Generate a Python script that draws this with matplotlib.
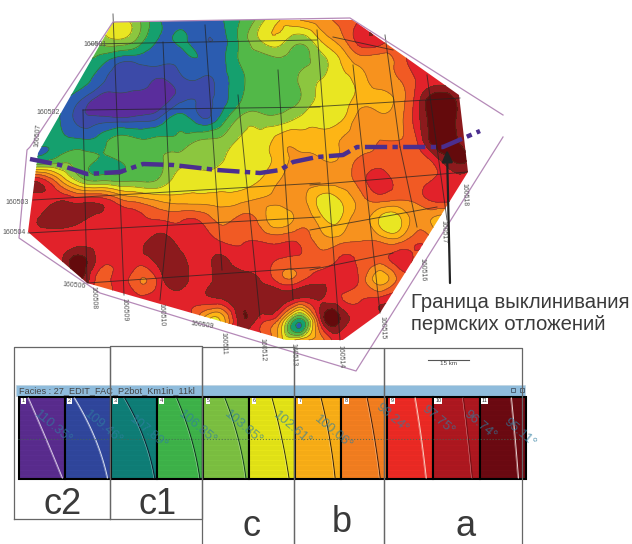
import numpy as np
import matplotlib
matplotlib.use("Agg")
import matplotlib.pyplot as plt
import matplotlib.tri as mtri
from matplotlib.colors import BoundaryNorm, ListedColormap
from matplotlib.patches import Polygon

plt.rcParams['font.family'] = ['Liberation Sans', 'DejaVu Sans']

# сетка карты фаций (значения снимались с картинки по цветам)
grid_x = np.arange(20, 500, 20)
grid_y = np.arange(20, 360, 20)
row_020 = [5,5,5,5,5,5.5,4.5,2.5,2,2,2.3,3.5,5,6.5,7.5,8,8.7,9.5,10,9.5,9.5,9.5,9.5,9.5]
row_040 = [5,5,5,5,5,5.4,4,2.4,2.6,2,2,3.7,5.5,6,4.8,6.5,8,10,10,9,9,9,9,9]
row_060 = [3.5,3.5,3.5,3.5,3,2,2,2,2.1,2.4,2.2,3.6,4,4.3,4.3,5,6.5,8,8,9,10,10,10,10]
row_080 = [3,3,3,2.9,2,1.5,1.5,1.2,1.6,1.7,2,3.2,4,4,4.6,5.5,6,7,8,8.5,9.7,10,10,10]
row_100 = [3,3,2.7,1.8,1,0.9,0.9,1,1.6,1.7,2,3.4,4,4,4.5,5.7,5.7,7,7,8,10.5,12.5,11,10]
row_120 = [3,3,2.5,1.5,1.5,1.5,1.6,2,3,2,2.8,4.8,5,5,5.8,6,6.3,8,8,8.3,10.5,12.5,11,10]
row_140 = [3,3,2.7,2.6,2.9,4,3.6,3.8,3.8,4.5,4.7,5.6,5.8,7,7,7,7.5,8,8.5,8.5,10,12.5,11.3,10]
row_160 = [3.2,3.2,4,4,3.4,3.6,4.2,4.4,5,5.2,5.4,5.7,6,7,7.8,7.6,7.6,8.7,9,9,9,10.5,11.8,10]
row_180 = [10,10,7.5,5,4.3,4.2,4.3,4.7,6,6,6,6,6.5,7.5,8,8,8,9,10,9,9,9.8,10,9.5]
row_200 = [10,10,10.4,10,10,8.7,8,7.3,7,7,7,7.2,7.6,7.8,8,6.2,6.5,8,8.8,8.5,9,9.8,9.5,9]
row_220 = [10,10.6,11,10.7,10,10,9.7,9.5,9.4,9.4,8.3,8.8,8.2,6.8,8,7,6.5,8,6.3,6.3,8,7,8,8]
row_240 = [10,10,10,10,10,10,10,11,10,10,9.4,9.3,9.4,9.2,9.3,8,8,8.4,8.2,8,9.3,8,8,8]
row_260 = [10,10,10.2,12,10,10,10,11,11,10,10.7,10,10,9.4,9.3,9,9.6,9.3,9,10,9,9,9,9]
row_280 = [10,10,10,11.5,9,10,8.5,10,11,10,11,11,10.5,9,9.2,10.2,10,9.3,7,9,9,9,9,9]
row_300 = [10,10,10,10,10,10,10,10,10,10,10.3,11.2,11,11.2,10,10.5,9.7,9.4,10,10,9,9,9,9]
row_320 = [10,10,10,10,10,10,10,10,10,8,6.5,11,10,8,3,10,11.5,10,10,10,10,10,10,10]
row_340 = [10,10,10,10,10,10,10,10,10,10,10,10,10,7,7,8,10,10,10,10,10,10,10,10]
facies_grid = np.array([row_020, row_040, row_060, row_080, row_100, row_120, row_140, row_160, row_180,
                        row_200, row_220, row_240, row_260, row_280, row_300, row_320, row_340])

map_levels = [0.5, 1.25, 1.75, 2.5, 3.5, 4.5, 5.5, 6.5, 7.5, 8.5, 9.5, 10.5, 11.5, 13]
map_colors = ['#5a2d9c', '#3c4aa8', '#2b5cb0', '#15a06e', '#52b848', '#8cc63f', '#e9e622',
              '#fdb515', '#f7921e', '#f15a24', '#e2222a', '#8c1a1d', '#640a0c']

# контур карты и внешняя рамка
map_edge_x = [113, 350, 459, 468, 380, 340, 293, 87, 28, 35, 38]
map_edge_y = [22, 18, 95, 172, 313, 342, 342, 283, 232, 177, 153]
frame_x = [503, 350, 113, 30, 27, 19, 100, 253, 356, 503]
frame_y = [115, 18, 22, 147, 150, 238, 293, 340, 371, 137]

# профили на карте: x0, y0, x1, y1
profiles_v = [(113, 14, 124, 295), (83, 110, 87, 283), (163, 42, 170, 200), (170, 200, 160, 300),
              (205, 25, 222, 270), (238, 95, 260, 318), (278, 70, 293, 300), (317, 30, 340, 340),
              (353, 65, 380, 313), (385, 35, 400, 147), (400, 147, 417, 227), (427, 75, 447, 220)]
profiles_h = [(90, 44, 317, 40), (333, 37, 393, 50), (83, 110, 320, 107), (310, 107, 460, 98),
              (33, 200, 320, 183), (310, 185, 467, 172), (28, 233, 320, 217), (310, 230, 437, 207),
              (88, 283, 320, 267), (310, 270, 393, 253)]

# граница выклинивания
pinch_x = [30, 60, 87, 120, 143, 173, 217, 260, 280, 293, 317, 343, 357, 443, 480]
pinch_y = [159, 165, 174, 172, 164, 165, 170, 173, 170, 162, 157, 155, 147, 147, 131]

well_names = ['160501', '160502', '160507', '160503', '160504', '160506', '160508', '160509', '160510',
              '160509', '160511', '160512', '160513', '160514', '160515', '160516', '160517', '160518']
well_x = [95, 48, 38, 17, 14, 74, 93, 124, 161, 202, 223, 262, 293, 340, 382, 422, 443, 464]
well_y = [45, 112, 135, 203, 233, 286, 298, 310, 315, 325, 343, 350, 355, 357, 328, 270, 232, 195]
well_rot = [0, 0, 85, 0, 0, -5, -88, -88, -88, -8, -88, -88, -88, -88, -88, -88, -88, -88]

# панель фаций
cell_colors = ['#5b2d90', '#31479e', '#0f7f78', '#3fb54a', '#7dc242', '#e6e617',
               '#fbb017', '#f57f20', '#ee2a24', '#b01820', '#6d0a12']
cell_angles = ['110.35°', '109.46°', '107.89°', '106.85°', '103.85°', '102.61°',
               '100.06°', '98.24°', '97.75°', '96.74°', '95.11°']
angle_x = [53, 103, 148, 197, 243, 293, 333, 392, 438, 480, 520]
angle_y = [427, 427, 432, 427, 427, 428, 432, 418, 420, 425, 433]
wavelet_top = [10, 10, 14, 20, 22, 23, 26, 26, 28, 30, 32]
wavelet_mid = [24, 27, 30, 32, 33, 31, 33, 32, 33, 34, 35]
wavelet_bot = [44, 43, 44, 43, 43, 40, 40, 39, 39, 39, 39]
wavelet_colors = ['#d9c8e8', '#d8e0f0', '#102030', '#103020', '#104020', '#303010',
                  '#302010', '#402010', '#f8d0c0', '#701015', '#e8d0d0']

group_names = ['c2', 'c1', 'c', 'b', 'a']
group_left = [14, 110, 202, 294, 384]
group_right = [110, 202, 294, 384, 522]
group_top = [347, 346, 347, 348, 348]
group_bottom = [519, 519, 560, 560, 560]
group_label_x = [63, 158, 252, 342, 466]
group_label_y = [505, 505, 527, 523, 527]

fig = plt.figure(figsize=(6.32, 5.44), dpi=100)
ax = fig.add_axes([0, 0, 1, 1])
ax.set_xlim(0, 632)
ax.set_ylim(544, 0)
ax.axis('off')

# карта
clip = Polygon(np.column_stack([map_edge_x, map_edge_y]), closed=True, transform=ax.transData,
               fill=False, edgecolor='none')
ax.add_patch(clip)
cmap = ListedColormap(map_colors)
norm = BoundaryNorm(map_levels, cmap.N)

# сглаживаем изолинии штатным рефайнером matplotlib
mesh_x, mesh_y = np.meshgrid(grid_x, grid_y)
triang = mtri.Triangulation(mesh_x.ravel(), mesh_y.ravel())
refiner = mtri.UniformTriRefiner(triang)
tri_fine, z_fine = refiner.refine_field(facies_grid.ravel(), subdiv=3)
z_fine = np.clip(z_fine, 0.6, 12.9)

filled = ax.tricontourf(tri_fine, z_fine, levels=map_levels, cmap=cmap, norm=norm, zorder=1)
filled.set_clip_path(clip)
lines = ax.tricontour(tri_fine, z_fine, levels=map_levels[1:-1], colors='#4a4020',
                      linewidths=0.45, alpha=0.7, zorder=2)
lines.set_clip_path(clip)

for x0, y0, x1, y1 in profiles_v + profiles_h:
    ax.plot([x0, x1], [y0, y1], color='#222222', lw=0.7, alpha=0.7, zorder=3)

ax.plot(frame_x, frame_y, color='#b58ab8', lw=0.9, zorder=3)
ax.plot(pinch_x, pinch_y, color='#4b2e8f', lw=3.2, ls=(0, (5, 1.2, 1.2, 1.2)), zorder=5)

for name, x, y, rot in zip(well_names, well_x, well_y, well_rot):
    ax.text(x, y, name, fontsize=5, color='#555555', rotation=rot, ha='center', va='center', zorder=4)

# стрелка и подпись
ax.annotate('', xy=(447, 150), xytext=(450, 283), zorder=6,
            arrowprops=dict(arrowstyle='-|>,head_width=0.32,head_length=0.7', color='#222222', lw=1.6,
                            shrinkA=0, shrinkB=0))
ax.text(411, 302, 'Граница выклинивания', fontsize=14.6, color='#3a3a3a', va='center', ha='left')
ax.text(411, 325, 'пермских отложений', fontsize=14.6, color='#3a3a3a', va='center', ha='left')

# масштаб
ax.plot([428, 469], [360, 360], color='#555555', lw=0.8)
ax.text(448, 363.5, '15 km', fontsize=4.5, color='#444444', ha='center', va='center')

# заголовок панели
ax.barh(390.5, 509, height=11, left=16, color='#8fbcdc', edgecolor='#c0d4e0', lw=0.5, zorder=2)
ax.text(19, 390.5, 'Facies : 27_EDIT_FAC_P2bot_Km1in_11kl', fontsize=6.6, color='#444444', va='center', zorder=3)
ax.plot([513], [390], marker='s', ms=3.5, mfc='none', mec='#445566', mew=0.6, zorder=3)
ax.plot([522], [390], marker='s', ms=2.5, mfc='none', mec='#445566', mew=0.6, zorder=3)

# ячейки фаций
cell_w = 46.1
cell_left = 18.5 + cell_w * np.arange(len(cell_colors))
ax.bar(cell_left, 82, width=cell_w, bottom=397, align='edge', color=cell_colors,
       edgecolor='black', lw=1.5, zorder=2)
for i, left in enumerate(cell_left):
    ax.hlines(np.arange(399, 478, 2.5), left + 1, left + cell_w - 1, color='black', lw=0.3, alpha=0.12, zorder=3)
    xs = left + np.array([wavelet_top[i], wavelet_mid[i], wavelet_bot[i]])
    ys = [398, 430, 478]
    coef = np.polyfit(ys, xs, 2)
    yy = np.arange(398, 479)
    ax.plot(np.polyval(coef, yy), yy, color=wavelet_colors[i], lw=0.7, zorder=4)
    ax.plot(np.polyval(coef, yy) - 1.0, yy, color='white', lw=0.35, alpha=0.5, zorder=4)
    ax.text(left + 5, 401, str(i + 1), fontsize=4, color='#333333', ha='center', va='center', zorder=5,
            bbox=dict(boxstyle='square,pad=0.15', fc='white', ec='none'))
    ax.text(angle_x[i], angle_y[i], cell_angles[i], fontsize=9.5, rotation=-40, color='#2f7ea0', alpha=0.7,
            ha='center', va='center', zorder=6)
ax.hlines(439, 18, 525, color='#446655', lw=0.8, ls=':', alpha=0.8, zorder=5)

# группы фаций
for name, left, right, top, bottom, lx, ly in zip(group_names, group_left, group_right, group_top,
                                                  group_bottom, group_label_x, group_label_y):
    ax.plot([left, left, right, right, left], [bottom, top, top, bottom, bottom],
            color='#666666', lw=0.9, zorder=7)
    ax.text(lx, ly, name, fontsize=26, color='#3a3a3a', ha='center', va='center', zorder=7)

ax.set_xlim(0, 632)
ax.set_ylim(544, 0)
fig.savefig('out.png', dpi=100)
